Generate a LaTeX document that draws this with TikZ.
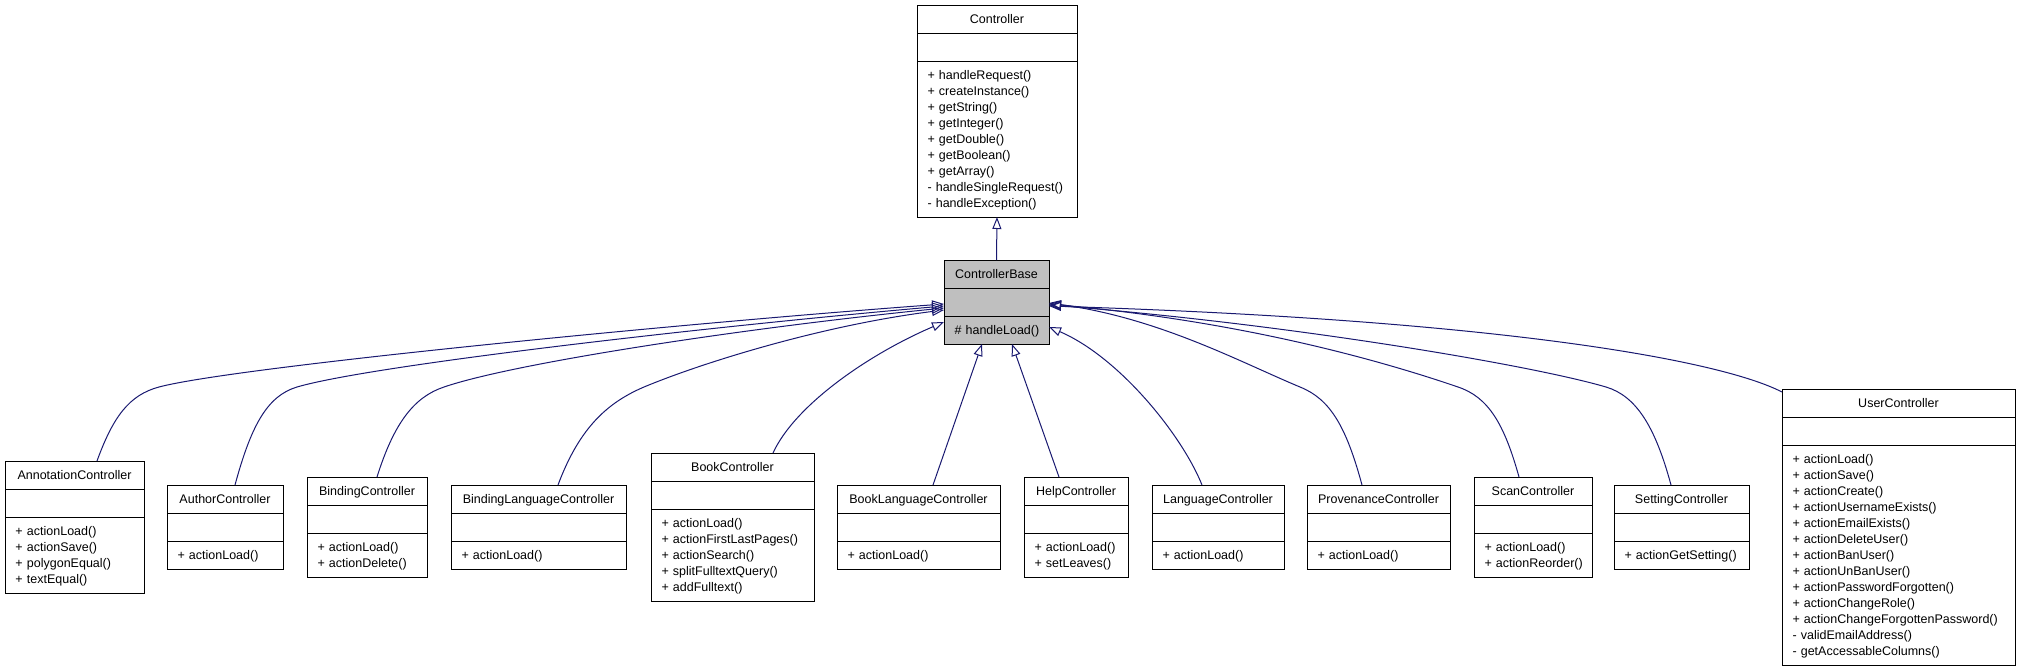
\documentclass[tikz,border=0pt]{standalone}
\usepackage{fontspec}
\setmainfont{Liberation Sans}
\usetikzlibrary{shapes.multipart,arrows.meta}
\definecolor{edgeblue}{HTML}{191970}
\definecolor{basegray}{HTML}{BFBFBF}
\newcommand\cstrut{\rule[-3.7pt]{0pt}{16pt}}
\newcommand\ctitle[1]{\makebox[\linewidth]{\cstrut #1}}
\newcommand\meth[1]{\mbox{\cstrut #1}\par}
\tikzset{
  umlclass/.style={rectangle split, rectangle split parts=3, draw=black, fill=white,
    line width=1pt, inner xsep=10.5pt, inner ysep=5.5pt, outer sep=0pt,
    align=left, anchor=north west, font=\fontsize{12.5}{16}\selectfont},
  inherits/.style={draw=edgeblue, line width=1pt, -{Triangle[open,length=12pt,width=9pt]}}
}
\begin{document}
\begin{tikzpicture}[x=1pt,y=-1pt]
\useasboundingbox (0,0) rectangle (2019,667);
\node[umlclass, text width=139pt] (ctrl) at (917,5) {\ctitle{Controller}\nodepart{two}\cstrut\nodepart{three}%
  \meth{+ handleRequest()}\meth{+ createInstance()}\meth{+ getString()}\meth{+ getInteger()}%
  \meth{+ getDouble()}\meth{+ getBoolean()}\meth{+ getArray()}\meth{- handleSingleRequest()}%
  \meth{- handleException()}};
\node[umlclass, fill=basegray, text width=84pt] (cbase) at (944,260) {\ctitle{ControllerBase}\nodepart{two}\cstrut\nodepart{three}%
  \meth{\# handleLoad()}};
\node[umlclass, text width=118pt] (annot) at (5,461) {\ctitle{AnnotationController}\nodepart{two}\cstrut\nodepart{three}%
  \meth{+ actionLoad()}\meth{+ actionSave()}\meth{+ polygonEqual()}\meth{+ textEqual()}};
\node[umlclass, text width=95pt] (author) at (167,485) {\ctitle{AuthorController}\nodepart{two}\cstrut\nodepart{three}%
  \meth{+ actionLoad()}};
\node[umlclass, text width=99pt] (binding) at (307,477) {\ctitle{BindingController}\nodepart{two}\cstrut\nodepart{three}%
  \meth{+ actionLoad()}\meth{+ actionDelete()}};
\node[umlclass, text width=154pt] (bindlang) at (451,485) {\ctitle{BindingLanguageController}\nodepart{two}\cstrut\nodepart{three}%
  \meth{+ actionLoad()}};
\node[umlclass, text width=142pt] (book) at (651,453) {\ctitle{BookController}\nodepart{two}\cstrut\nodepart{three}%
  \meth{+ actionLoad()}\meth{+ actionFirstLastPages()}\meth{+ actionSearch()}\meth{+ splitFulltextQuery()}%
  \meth{+ addFulltext()}};
\node[umlclass, text width=142pt] (booklang) at (837,485) {\ctitle{BookLanguageController}\nodepart{two}\cstrut\nodepart{three}%
  \meth{+ actionLoad()}};
\node[umlclass, text width=83pt] (help) at (1024,477) {\ctitle{HelpController}\nodepart{two}\cstrut\nodepart{three}%
  \meth{+ actionLoad()}\meth{+ setLeaves()}};
\node[umlclass, text width=111pt] (lang) at (1152,485) {\ctitle{LanguageController}\nodepart{two}\cstrut\nodepart{three}%
  \meth{+ actionLoad()}};
\node[umlclass, text width=122pt] (prov) at (1307,485) {\ctitle{ProvenanceController}\nodepart{two}\cstrut\nodepart{three}%
  \meth{+ actionLoad()}};
\node[umlclass, text width=97pt] (scan) at (1474,477) {\ctitle{ScanController}\nodepart{two}\cstrut\nodepart{three}%
  \meth{+ actionLoad()}\meth{+ actionReorder()}};
\node[umlclass, text width=114pt] (setting) at (1614,485) {\ctitle{SettingController}\nodepart{two}\cstrut\nodepart{three}%
  \meth{+ actionGetSetting()}};
\node[umlclass, text width=212pt] (user) at (1782,389) {\ctitle{UserController}\nodepart{two}\cstrut\nodepart{three}%
  \meth{+ actionLoad()}\meth{+ actionSave()}\meth{+ actionCreate()}\meth{+ actionUsernameExists()}%
  \meth{+ actionEmailExists()}\meth{+ actionDeleteUser()}\meth{+ actionBanUser()}\meth{+ actionUnBanUser()}%
  \meth{+ actionPasswordForgotten()}\meth{+ actionChangeRole()}\meth{+ actionChangeForgottenPassword()}%
  \meth{- validEmailAddress()}\meth{- getAccessableColumns()}};

\draw[inherits] (cbase.north) -- (ctrl.south);
\draw[inherits] ([xshift=92pt]annot.north west) .. controls +(16,-44) and +(-30,8) .. (159,387)
  .. controls +(75,-20) and +(-260,19) .. ([yshift=-44pt]cbase.north west);
\draw[inherits] ([xshift=68pt]author.north west) .. controls +(16,-59) and +(-30,9) .. (297,387)
  .. controls +(75,-22) and +(-230,20) .. ([yshift=-46pt]cbase.north west);
\draw[inherits] ([xshift=70pt]binding.north west) .. controls +(17,-54) and +(-30,10) .. (444,387)
  .. controls +(70,-24) and +(-200,20) .. ([yshift=-48pt]cbase.north west);
\draw[inherits] ([xshift=107pt]bindlang.north west) .. controls +(22,-59) and +(-35,15) .. (644,387)
  .. controls +(60,-25) and +(-120,15) .. ([yshift=-50pt]cbase.north west);
\draw[inherits] ([xshift=122pt]book.north west) .. controls +(22,-48) and +(-75,32) .. ([yshift=-62pt]cbase.north west);
\draw[inherits] ([xshift=96pt]booklang.north west) -- ([xshift=38pt]cbase.south west);
\draw[inherits] ([xshift=35pt]help.north west) -- ([xshift=68pt]cbase.south west);
\draw[inherits] ([xshift=50pt]lang.north west) .. controls +(-20,-50) and +(70,30) .. ([yshift=-67pt]cbase.north east);
\draw[inherits] ([xshift=55pt]prov.north west) .. controls +(-16,-59) and +(30,12) .. (1300,387)
  .. controls +(-60,-25) and +(110,15) .. ([yshift=-43pt]cbase.north east);
\draw[inherits] ([xshift=45pt]scan.north west) .. controls +(-15,-54) and +(30,10) .. (1458,387)
  .. controls +(-70,-24) and +(200,18) .. ([yshift=-44pt]cbase.north east);
\draw[inherits] ([xshift=57pt]setting.north west) .. controls +(-16,-59) and +(30,9) .. (1606,387)
  .. controls +(-75,-22) and +(240,19) .. ([yshift=-45pt]cbase.north east);
\draw[inherits] ([yshift=-3pt]user.north west) .. controls +(-62,-32) and +(450,14) .. ([yshift=-46pt]cbase.north east);
\end{tikzpicture}
\end{document}
